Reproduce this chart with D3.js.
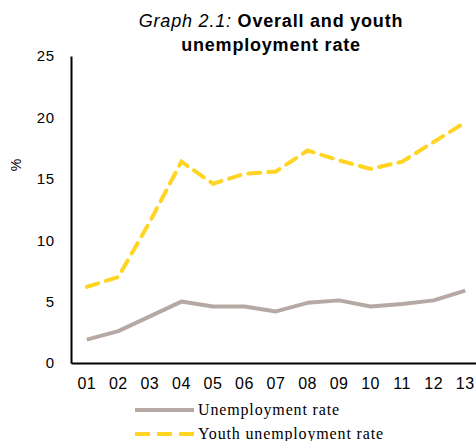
<!DOCTYPE html>
<html>
<head>
<meta charset="utf-8">
<script src="https://cdn.jsdelivr.net/npm/d3@7"></script>
<style>
  body { margin: 0; background: #fff; }
  svg { display: block; }
</style>
</head>
<body>
<div id="chart"></div>
<script>
// years (2001..2013)
var years = ["01", "02", "03", "04", "05", "06", "07", "08", "09", "10", "11", "12", "13"];
// overall unemployment rate, %
var unemployment = [1.9, 2.6, 3.8, 5.0, 4.6, 4.6, 4.2, 4.9, 5.1, 4.6, 4.8, 5.1, 5.9];
// youth unemployment rate, %
var youth = [6.2, 7.0, 11.5, 16.4, 14.6, 15.4, 15.6, 17.3, 16.5, 15.8, 16.4, 18.0, 19.6];
var yTicks = [0, 5, 10, 15, 20, 25];

var w = 476, h = 441;
var sans = "Liberation Sans, Arial, sans-serif";
var svg = d3.select("#chart").append("svg")
    .attr("width", w)
    .attr("height", h);

var x = d3.scaleBand().domain(years).range([71, 481]);
var y = d3.scaleLinear().domain([0, 25]).range([363, 56]);

// title, two lines
var title = svg.append("text")
    .attr("x", 271)
    .attr("y", 27)
    .attr("text-anchor", "middle")
    .style("font-family", sans)
    .style("font-size", "18px")
    .style("letter-spacing", "0.8px");
title.append("tspan").style("font-style", "italic").text("Graph 2.1: ");
title.append("tspan").style("font-weight", "bold").text("Overall and youth");
svg.append("text")
    .attr("x", 271)
    .attr("y", 51)
    .attr("text-anchor", "middle")
    .style("font-family", sans)
    .style("font-size", "18px")
    .style("letter-spacing", "0.8px")
    .style("font-weight", "bold")
    .text("unemployment rate");

// y axis
var yAxis = svg.append("g")
    .attr("transform", "translate(71,0)")
    .call(d3.axisLeft(y).tickValues(yTicks).tickSize(0).tickPadding(16));
yAxis.select(".domain").attr("stroke", "#000").attr("stroke-width", 2);
yAxis.selectAll("text")
    .style("font-family", sans)
    .style("font-size", "15px")
    .style("letter-spacing", "0.8px")
    .attr("fill", "#000");

// x axis
var xAxis = svg.append("g")
    .attr("transform", "translate(0,363)")
    .call(d3.axisBottom(x).tickSize(0).tickPadding(15));
xAxis.select(".domain").attr("stroke", "#000").attr("stroke-width", 2);
xAxis.selectAll("text")
    .style("font-family", sans)
    .style("font-size", "16px")
    .style("letter-spacing", "0.5px")
    .attr("fill", "#000");

svg.append("text")
    .attr("transform", "translate(21,165) rotate(-90)")
    .attr("text-anchor", "middle")
    .style("font-family", sans)
    .style("font-size", "14px")
    .text("%");

var line = d3.line()
    .x(function(d, i) { return x(years[i]) + x.bandwidth() / 2; })
    .y(function(d) { return y(d); });

svg.append("path")
    .datum(unemployment)
    .attr("fill", "none")
    .attr("stroke", "#B6A9A3")
    .attr("stroke-width", 4)
    .attr("stroke-linejoin", "round")
    .attr("d", line);

svg.append("path")
    .datum(youth)
    .attr("fill", "none")
    .attr("stroke", "#FFD422")
    .attr("stroke-width", 4)
    .attr("stroke-dasharray", "12,8")
    .attr("stroke-linecap", "round")
    .attr("d", line);

// legend
var legend = [
  { name: "Unemployment rate", color: "#B6A9A3", dash: null },
  { name: "Youth unemployment rate", color: "#FFD422", dash: "15,7" }
];
var lg = svg.selectAll(".lg").data(legend).enter().append("g")
    .attr("transform", function(d, i) { return "translate(0," + (410 + i * 24) + ")"; });
lg.append("line")
    .attr("x1", 135).attr("x2", 194)
    .attr("stroke", function(d) { return d.color; })
    .attr("stroke-width", 4)
    .attr("stroke-dasharray", function(d) { return d.dash; });
lg.append("text")
    .attr("x", 198)
    .attr("y", 5)
    .style("font-family", "Liberation Serif, Times New Roman, serif")
    .style("font-size", "16px")
    .style("letter-spacing", "0.85px")
    .text(function(d) { return d.name; });
</script>
</body>
</html>
